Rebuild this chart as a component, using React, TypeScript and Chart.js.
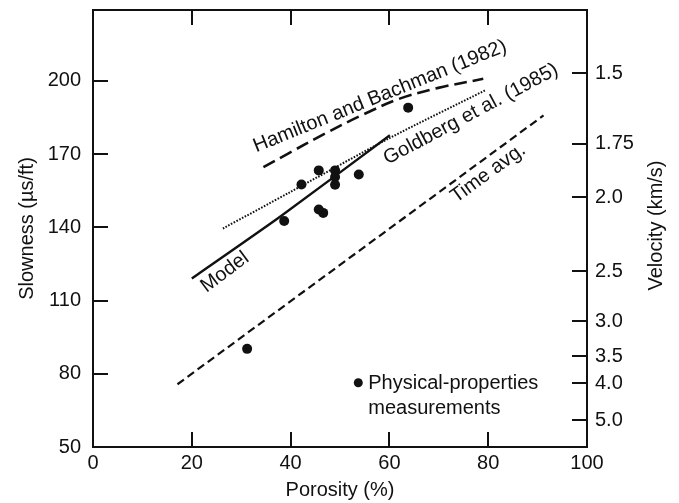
import React, { useEffect, useRef } from "react";
import { Chart, registerables } from "chart.js";

Chart.register(...registerables);

// ---- axes ----
const xTicks = [0, 20, 40, 60, 80, 100];
const slownessTicks = [50, 80, 110, 140, 170, 200];
const velocityTicks = [1.5, 1.75, 2.0, 2.5, 3.0, 3.5, 4.0, 5.0];
const velocityLabels = ["1.5", "1.75", "2.0", "2.5", "3.0", "3.5", "4.0", "5.0"];
const X_MIN = 0;
const X_MAX = 100;
const Y_MIN = 50;
const Y_MAX = 229;
// slowness (µs/ft) = 304.8 / velocity (km/s)
const FT_FACTOR = 304.8;

// ---- data ----
const measPorosity = [31.2, 38.7, 42.2, 45.7, 45.7, 46.6, 49.0, 49.0, 49.0, 53.8, 63.8];
const measSlowness = [90.2, 142.6, 157.5, 163.3, 147.3, 145.9, 163.3, 160.6, 157.4, 161.6, 189.0];

const hamiltonPorosity = [34.5, 39.5, 47.0, 54.4, 62.1, 69.9, 79.0];
const hamiltonSlowness = [164.6, 170.2, 178.4, 185.9, 192.7, 197.1, 200.8];

const goldbergPorosity = [26.3, 40.0, 60.0, 79.4];
const goldbergSlowness = [139.5, 154.5, 176.5, 196.1];

const modelPorosity = [20.0, 38.0, 60.1];
const modelSlowness = [119.0, 144.5, 177.7];

const timeAvgPorosity = [17.1, 91.2];
const timeAvgSlowness = [75.7, 185.8];

// ---- text ----
const xTitle = "Porosity (%)";
const yTitle = "Slowness (µs/ft)";
const y2Title = "Velocity (km/s)";
const legendLines = ["Physical-properties", "measurements"];

const FONT_FAMILY = "'Liberation Sans', Arial, sans-serif";
const FONT_SIZE = 20;
const INK = "#111111";

const pts = (xs: number[], ys: number[]) => xs.map((x, i) => ({ x, y: ys[i] }));

const annotations = [
  { text: "Hamilton and Bachman (1982)", x: 58.1, y: 193.6, angle: -22 },
  { text: "Goldberg et al. (1985)", x: 76.5, y: 186.3, angle: -28 },
  { text: "Model", x: 26.7, y: 121.6, angle: -37 },
  { text: "Time avg.", x: 80.0, y: 162.1, angle: -36 },
];

const framePlugin = {
  id: "frame",
  afterDraw(chart: any) {
    const { ctx, chartArea: a, scales } = chart;
    const sx = scales.x;
    const sy = scales.y;
    const sy2 = scales.y2;
    ctx.save();
    ctx.strokeStyle = INK;
    ctx.fillStyle = INK;
    ctx.lineWidth = 2;
    ctx.setLineDash([]);
    ctx.strokeRect(a.left, a.top, a.right - a.left, a.bottom - a.top);

    const L = 15;
    ctx.beginPath();
    for (const v of xTicks) {
      if (v === X_MIN || v === X_MAX) continue;
      const px = Math.round(sx.getPixelForValue(v));
      ctx.moveTo(px, a.bottom);
      ctx.lineTo(px, a.bottom - L);
      ctx.moveTo(px, a.top);
      ctx.lineTo(px, a.top + L);
    }
    for (const v of slownessTicks) {
      if (v <= Y_MIN) continue;
      const py = Math.round(sy.getPixelForValue(v));
      ctx.moveTo(a.left, py);
      ctx.lineTo(a.left + L, py);
    }
    for (const v of velocityTicks) {
      const py = Math.round(sy2.getPixelForValue(FT_FACTOR / v));
      ctx.moveTo(a.right, py);
      ctx.lineTo(a.right - L, py);
    }
    ctx.stroke();

    ctx.font = `${FONT_SIZE}px ${FONT_FAMILY}`;
    // axis titles
    ctx.textAlign = "center";
    ctx.textBaseline = "alphabetic";
    ctx.fillText(xTitle, (a.left + a.right) / 2, 496);

    ctx.save();
    ctx.translate(33, (a.top + a.bottom) / 2);
    ctx.rotate(-Math.PI / 2);
    ctx.fillText(yTitle, 0, 0);
    ctx.restore();

    ctx.save();
    ctx.translate(662, (a.top + a.bottom) / 2 - 3);
    ctx.rotate(-Math.PI / 2);
    ctx.fillText(y2Title, 0, 0);
    ctx.restore();

    // rotated curve labels
    ctx.textBaseline = "middle";
    for (const an of annotations) {
      ctx.save();
      ctx.translate(sx.getPixelForValue(an.x), sy.getPixelForValue(an.y));
      ctx.rotate((an.angle * Math.PI) / 180);
      ctx.fillText(an.text, 0, 0);
      ctx.restore();
    }

    // legend
    const lx = sx.getPixelForValue(53.7);
    const ly = sy.getPixelForValue(76.3);
    ctx.beginPath();
    ctx.arc(lx, ly, 4.5, 0, Math.PI * 2);
    ctx.fill();
    ctx.textAlign = "left";
    ctx.textBaseline = "alphabetic";
    ctx.fillText(legendLines[0], lx + 10, ly + 6);
    ctx.fillText(legendLines[1], lx + 10, ly + 31);
    ctx.restore();
  },
};

export default function App() {
  const ref = useRef<HTMLCanvasElement>(null);
  useEffect(() => {
    if (!ref.current) return;
    const tickFont = { family: FONT_FAMILY, size: FONT_SIZE };
    const lineDs = (label: string, xs: number[], ys: number[], dash: number[], width: number, tension: number) => ({
      type: "scatter" as const,
      label,
      data: pts(xs, ys),
      showLine: true,
      borderColor: INK,
      backgroundColor: INK,
      borderWidth: width,
      borderDash: dash,
      borderCapStyle: "butt",
      pointRadius: 0,
      pointHoverRadius: 0,
      tension,
      yAxisID: "y",
    });
    const chart = new Chart(ref.current, {
      type: "scatter",
      data: {
        datasets: [
          lineDs("Hamilton and Bachman (1982)", hamiltonPorosity, hamiltonSlowness, [13, 6], 2.6, 0.35),
          lineDs("Goldberg et al. (1985)", goldbergPorosity, goldbergSlowness, [1.6, 1.5], 2, 0.3),
          lineDs("Model", modelPorosity, modelSlowness, [], 2.4, 0.2),
          lineDs("Time avg.", timeAvgPorosity, timeAvgSlowness, [8, 4.5], 2.2, 0),
          {
            type: "scatter",
            label: "Physical-properties measurements",
            data: pts(measPorosity, measSlowness),
            pointRadius: 5,
            pointBackgroundColor: INK,
            pointBorderWidth: 0,
            showLine: false,
            yAxisID: "y",
          } as any,
        ] as any,
      },
      options: {
        animation: false,
        responsive: true,
        maintainAspectRatio: false,
        layout: { padding: { top: 10, left: 0, right: 0, bottom: 0 } },
        plugins: {
          legend: { display: false },
          tooltip: { enabled: false },
        },
        scales: {
          x: {
            type: "linear",
            position: "bottom",
            min: X_MIN,
            max: X_MAX,
            afterBuildTicks: (s: any) => {
              s.ticks = xTicks.map((v) => ({ value: v }));
            },
            afterFit: (s: any) => {
              s.height = 56;
              s.paddingLeft = 0;
              s.paddingRight = 0;
            },
            ticks: { font: tickFont, color: INK, padding: 4, maxRotation: 0, autoSkip: false },
            grid: { display: false, drawTicks: false },
            border: { display: false },
          },
          y: {
            type: "linear",
            position: "left",
            min: Y_MIN,
            max: Y_MAX,
            afterBuildTicks: (s: any) => {
              s.ticks = slownessTicks.map((v) => ({ value: v }));
            },
            afterFit: (s: any) => {
              s.width = 93;
              s.paddingTop = 0;
              s.paddingBottom = 0;
            },
            ticks: { font: tickFont, color: INK, padding: 12, autoSkip: false },
            grid: { display: false, drawTicks: false },
            border: { display: false },
          },
          y2: {
            type: "linear",
            position: "right",
            min: Y_MIN,
            max: Y_MAX,
            afterBuildTicks: (s: any) => {
              s.ticks = velocityTicks.map((v) => ({ value: FT_FACTOR / v }));
            },
            afterFit: (s: any) => {
              s.width = 92;
              s.paddingTop = 0;
              s.paddingBottom = 0;
            },
            ticks: {
              font: tickFont,
              color: INK,
              padding: 8,
              autoSkip: false,
              callback: (value: any) => {
                const i = velocityTicks.findIndex((v) => Math.abs(FT_FACTOR / v - Number(value)) < 0.01);
                return i >= 0 ? velocityLabels[i] : "";
              },
            },
            grid: { display: false, drawTicks: false },
            border: { display: false },
          },
        },
      } as any,
      plugins: [framePlugin],
    });
    return () => chart.destroy();
  }, []);
  return (
    <div style={{ position: "fixed", left: 0, top: 0, width: 679, height: 503, background: "#fff" }}>
      <canvas ref={ref} />
    </div>
  );
}
